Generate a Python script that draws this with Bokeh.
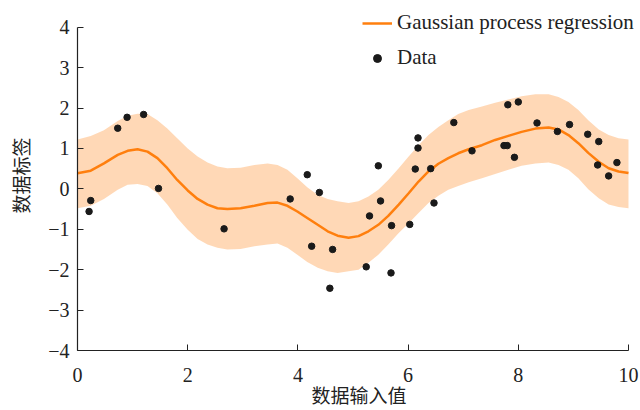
from bokeh.plotting import figure
from bokeh.models import Range1d, FixedTicker, Legend, LegendItem
from bokeh.embed import file_html
from bokeh.resources import INLINE

# Observed data points
data_x = [0.21, 0.24, 0.73, 0.90, 1.20, 1.47, 2.66, 3.86, 4.17, 4.39, 4.25, 4.63, 4.58,
          5.24, 5.30, 5.46, 5.50, 5.69, 5.70, 6.03, 6.13, 6.18, 6.18, 6.41, 6.47, 6.83,
          7.16, 7.74, 7.80, 7.81, 7.93, 8.00, 8.34, 8.71, 8.93, 9.26, 9.46, 9.44, 9.64, 9.79]
data_y = [-0.56, -0.29, 1.50, 1.77, 1.84, 0.01, -0.99, -0.25, 0.35, -0.09, -1.42, -1.50, -2.46,
          -1.93, -0.67, 0.57, -0.30, -2.08, -0.91, -0.88, 0.49, 1.01, 1.26, 0.50, -0.35, 1.64,
          0.94, 1.07, 1.07, 2.08, 0.78, 2.15, 1.63, 1.42, 1.59, 1.35, 1.17, 0.59, 0.32, 0.65]

# GP mean and confidence band
gp_x = [0.0, 0.24, 0.48, 0.73, 0.91, 1.09, 1.27, 1.45, 1.63, 1.81, 2.00, 2.18, 2.36, 2.54,
        2.72, 2.96, 3.21, 3.45, 3.63, 3.81, 3.99, 4.17, 4.36, 4.54, 4.72, 4.92, 5.10, 5.28,
        5.46, 5.64, 5.83, 6.01, 6.19, 6.37, 6.55, 6.73, 6.91, 7.10, 7.34, 7.58, 7.82, 8.06,
        8.31, 8.55, 8.73, 8.91, 9.09, 9.27, 9.46, 9.64, 9.82, 10.0]
gp_mean = [0.385, 0.45, 0.63, 0.84, 0.94, 0.98, 0.92, 0.76, 0.51, 0.22, -0.04, -0.25, -0.39, -0.48,
           -0.50, -0.48, -0.42, -0.35, -0.34, -0.42, -0.56, -0.72, -0.89, -1.05, -1.16, -1.21,
           -1.17, -1.05, -0.89, -0.67, -0.39, -0.11, 0.18, 0.43, 0.62, 0.76, 0.88, 0.98, 1.08,
           1.21, 1.31, 1.41, 1.49, 1.52, 1.47, 1.33, 1.13, 0.89, 0.67, 0.51, 0.43, 0.39]
gp_upper = [1.22, 1.31, 1.45, 1.68, 1.81, 1.86, 1.85, 1.70, 1.49, 1.25, 1.00, 0.80, 0.65, 0.55,
            0.51, 0.52, 0.59, 0.63, 0.59, 0.47, 0.26, 0.04, -0.15, -0.25, -0.31, -0.35,
            -0.31, -0.19, -0.02, 0.22, 0.51, 0.80, 1.08, 1.33, 1.53, 1.70, 1.85, 1.95, 2.04,
            2.13, 2.21, 2.29, 2.34, 2.34, 2.27, 2.15, 1.95, 1.70, 1.47, 1.33, 1.25, 1.22]
gp_lower = [-0.48, -0.42, -0.25, -0.02, 0.10, 0.12, 0.07, -0.11, -0.39, -0.72, -1.01, -1.24,
            -1.38, -1.46, -1.50, -1.49, -1.42, -1.38, -1.35, -1.46, -1.63, -1.81, -1.95, -2.04,
            -2.08, -2.04, -2.00, -1.83, -1.63, -1.38, -1.09, -0.85, -0.60, -0.35, -0.17, -0.02,
            0.07, 0.16, 0.26, 0.37, 0.47, 0.57, 0.63, 0.65, 0.59, 0.47, 0.26, -0.01, -0.23,
            -0.39, -0.45, -0.48]

x_ticks = [0, 2, 4, 6, 8, 10]
y_ticks = [-4, -3, -2, -1, 0, 1, 2, 3, 4]

SERIF = "Liberation Serif"
CJK = "Noto Sans CJK SC"
AX = "#222222"

# The frame reaches the top and right edges of the canvas so the legend (which sits
# above y=4 and past x=10) is not clipped; the axes themselves are bounded.
p = figure(width=640, height=410, output_backend="svg", toolbar_location=None,
           x_range=Range1d(0, 10.218), y_range=Range1d(-4, 4.66),
           min_border_left=77, min_border_right=0, min_border_top=0, min_border_bottom=58)
p.outline_line_color = None
p.grid.visible = False
p.background_fill_color = "white"

p.varea(x=gp_x, y1=gp_lower, y2=gp_upper, fill_color="#ff7f0e", fill_alpha=0.3)
r_line = p.line(gp_x, gp_mean, line_color="#ff7f0e", line_width=2.5)
r_pts = p.scatter(data_x, data_y, size=6.5, fill_color="#1a1a1a", line_color="#1a1a1a")

for ax, ticks in ((p.xaxis, x_ticks), (p.yaxis, y_ticks)):
    ax.ticker = FixedTicker(ticks=ticks)
    ax.minor_tick_line_color = None
    ax.major_tick_in = 6
    ax.major_tick_out = 0
    ax.axis_line_color = AX
    ax.axis_line_width = 1.2
    ax.major_tick_line_color = AX
    ax.major_label_text_font = SERIF
    ax.major_label_text_font_size = "20px"
    ax.major_label_text_color = AX
    ax.axis_label_text_font = CJK
    ax.axis_label_text_font_size = "19px"
    ax.axis_label_text_font_style = "normal"
    ax.axis_label_text_color = AX

p.xaxis.bounds = (0, 10)
p.yaxis.bounds = (-4, 4)
p.yaxis.major_label_overrides = {t: (("\u2212" + str(-t)) if t < 0 else str(t)) for t in y_ticks}
p.xaxis.axis_label = "数据输入值"
p.yaxis.axis_label = "数据标签"
p.xaxis.major_label_standoff = 17
p.yaxis.major_label_standoff = 8
p.xaxis.axis_label_standoff = -4
p.yaxis.axis_label_standoff = 11

legend = Legend(items=[LegendItem(label="Gaussian process regression", renderers=[r_line]),
                       LegendItem(label="Data", renderers=[r_pts])],
                location=(285, 280), border_line_color=None, background_fill_alpha=0,
                padding=0, margin=0, spacing=10, glyph_width=30, glyph_height=20,
                label_height=20, label_standoff=5,
                label_text_font=SERIF, label_text_font_size="21px", label_text_color=AX)
p.add_layout(legend, "center")

open("out.html", "w").write(file_html(p, INLINE))
